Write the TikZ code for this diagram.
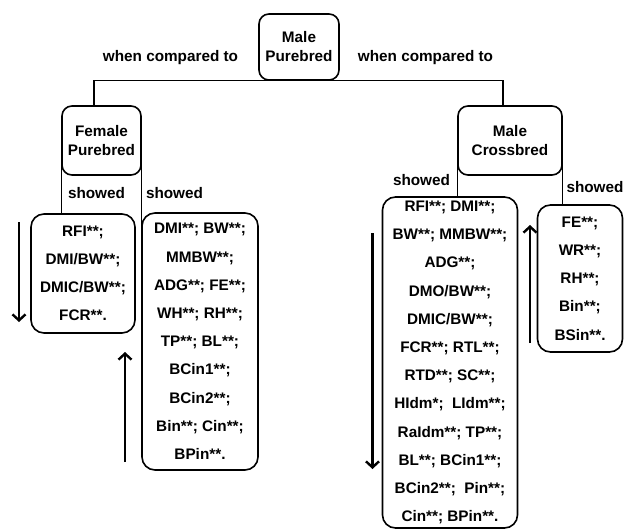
\documentclass[tikz,border=0pt]{standalone}
\usepackage{fontspec}
\setmainfont{Liberation Sans}
\usetikzlibrary{arrows.meta}

\begin{document}
\begin{tikzpicture}[x=1pt, y=-1pt,
    every node/.style={font=\fontsize{15.3}{19}\selectfont\bfseries},
    group/.style={draw, line width=1.6pt, rounded corners=10pt, align=center, inner sep=0pt},
    traits/.style={draw, line width=1.6pt, rounded corners=13pt, align=center, inner sep=0pt,
      font=\fontsize{15.3}{28.2}\selectfont\bfseries},
    link/.style={line width=1.3pt},
    trend/.style={line width=2.4pt, -{Straight Barb[length=6pt, width=13pt]}}]
  \useasboundingbox (0,0) rectangle (624,530);

  \node[group, minimum width=80pt, minimum height=66pt] (mp) at (299,47) {Male\\Purebred};
  \node[group, minimum width=79pt, minimum height=69pt] (fp) at (101.5,140.5) {Female\\Purebred};
  \node[group, minimum width=104pt, minimum height=69pt] (mc) at (510,140.5) {Male\\Crossbred};

  \node (cmpl) at (170.5,58) {when compared to};
  \node (cmpr) at (425.5,58) {when compared to};

  \node[traits, minimum width=104pt, minimum height=119pt] (fpdown) at (83,273.5)
    {RFI**;\\DMI/BW**;\\DMIC/BW**;\\FCR**.};
  \node[traits, minimum width=116pt, minimum height=257pt] (fpup) at (200,341.5)
    {DMI**; BW**;\\MMBW**;\\ADG**; FE**;\\WH**; RH**;\\TP**; BL**;\\BCin1**;\\BCin2**;\\Bin**; Cin**;\\BPin**.};
  \node[traits, minimum width=135pt, minimum height=331pt] (mcdown) at (450,362.5)
    {RFI**; DMI**;\\BW**; MMBW**;\\ADG**;\\DMO/BW**;\\DMIC/BW**;\\FCR**; RTL**;\\RTD**; SC**;\\HIdm*;\ \ LIdm**;\\RaIdm**; TP**;\\BL**; BCin1**;\\BCin2**;\ \ Pin**;\\Cin**; BPin**.};
  \node[traits, minimum width=85pt, minimum height=147pt] (mcup) at (580,278.5)
    {FE**;\\WR**;\\RH**;\\Bin**;\\BSin**.};

  \node (shfl) at (96.5,193) {showed};
  \node (shfr) at (174.5,193) {showed};
  \node (shml) at (421.5,180) {showed};
  \node (shmr) at (595,187) {showed};

  \draw[link] ([xshift=-7.5pt]fp.north) |- (mp.south) -| ([xshift=-7pt]mc.north);
  \draw[link] (fp.west) -- (fp.west |- fpdown.north);
  \path (fp.east) ++(0,9.5) coordinate (fpr);
  \draw[link] (fpr -| fpup.west) -- (fpup.west);
  \draw[link] (mc.west) -- (mc.west |- mcdown.north);
  \draw[link] (mc.east) -- (mc.east |- mcup.north);

  \draw[trend] (19,222) -- (19,322);
  \draw[trend] (125,462) -- (125,352);
  \draw[trend] (372.5,233) -- (372.5,469);
  \draw[trend] (530,343) -- (530,225);
\end{tikzpicture}
\end{document}
